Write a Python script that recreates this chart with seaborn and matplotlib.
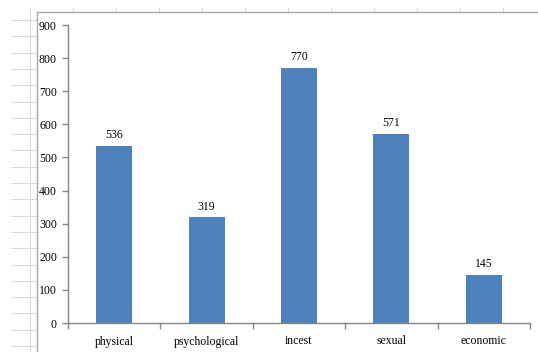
import matplotlib
matplotlib.use("Agg")
import matplotlib.pyplot as plt
import seaborn as sns
import pandas as pd
from matplotlib.lines import Line2D

# Reported cases by type of violence
categories = ["physical", "psychological", "incest", "sexual", "economic"]
cases = [536, 319, 770, 571, 145]
y_ticks = [0, 100, 200, 300, 400, 500, 600, 700, 800, 900]

df = pd.DataFrame({"type": categories, "cases": cases})

sns.set_theme(style="white")
plt.rcParams["font.family"] = ["Liberation Serif", "DejaVu Serif"]

W, H = 538, 352
fig = plt.figure(figsize=(W / 100, H / 100), dpi=100)
fig.patch.set_facecolor("white")

# Worksheet cell lines behind the chart object
grid_c = "#dadada"
def px(x, y):
    return x / W, 1 - y / H

y = 20.0
while y < H:
    (x0, y0), (x1, _) = px(11, y), px(37, y)
    fig.add_artist(Line2D([x0, x1], [y0, y0], color=grid_c, lw=0.8))
    y += 16.3
for x in [30]:
    (xa, ya), (_, yb) = px(x, 8), px(x, H)
    fig.add_artist(Line2D([xa, xa], [ya, yb], color=grid_c, lw=0.8))
for x in [73, 116, 159, 202, 245, 288, 331, 374, 417, 460, 503]:
    (xa, ya), (_, yb) = px(x, 8), px(x, 12)
    fig.add_artist(Line2D([xa, xa], [ya, yb], color=grid_c, lw=0.8))

# Chart object border
frame_c = "#a6a6a6"
(fx, fy) = px(37, 12)
fig.add_artist(Line2D([fx, fx], [fy, 0], color=frame_c, lw=1.0))
fig.add_artist(Line2D([fx, 1], [fy, fy], color=frame_c, lw=1.0))

# Plot area
left, right, top, bottom = 68, 530, 25, 323
ax = fig.add_axes([left / W, 1 - bottom / H, (right - left) / W, (bottom - top) / H])
ax.set_facecolor("none")

sns.barplot(data=df, x="type", y="cases", color="#4f81bd", width=0.39,
            saturation=1, ax=ax, edgecolor="none")

ax.set_ylim(0, 900)
ax.set_xlim(-0.5, len(categories) - 0.5)
ax.set_yticks(y_ticks)
ax.set_yticklabels([str(t) for t in y_ticks])
ax.set_xlabel("")
ax.set_ylabel("")

axis_c = "#868686"
for s in ["top", "right"]:
    ax.spines[s].set_visible(False)
for s in ["left", "bottom"]:
    ax.spines[s].set_color(axis_c)
    ax.spines[s].set_linewidth(1.0)

# Category boundary ticks on the x axis
ax.set_xticks([i + 0.5 for i in range(-1, len(categories))], minor=False)
ax.set_xticklabels([])
ax.set_xticks(range(len(categories)), minor=True)
ax.set_xticklabels(categories, minor=True)
ax.tick_params(axis="x", which="major", direction="out", length=4, width=1,
               color=axis_c, bottom=True)
ax.tick_params(axis="x", which="minor", length=0, labelsize=8.5, pad=9,
               labelcolor="black")
ax.tick_params(axis="y", direction="out", length=4, width=1, color=axis_c,
               left=True, labelsize=8.5, pad=4, labelcolor="black")

for i, v in enumerate(cases):
    ax.annotate(str(v), (i, v), xytext=(0, 5.5), textcoords="offset points",
                ha="center", va="baseline", fontsize=8.5, color="black")

fig.savefig("out.png", dpi=100, facecolor="white")
